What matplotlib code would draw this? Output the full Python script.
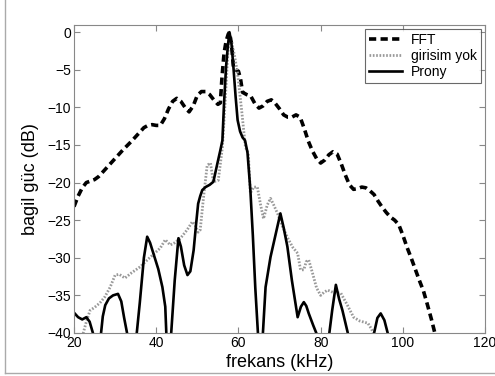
import numpy as np
import matplotlib.pyplot as plt
from matplotlib.lines import Line2D

plt.rcParams['font.family'] = ['Liberation Sans', 'DejaVu Sans']

# FFT spectrum (dashed)
fft_f = [20, 21, 22, 23, 24, 25, 26, 28, 30, 32, 34, 36, 37, 38, 39, 40, 41, 42, 43, 44,
         45, 46, 47, 48, 49, 50, 51, 52, 53, 54, 55, 55.6, 56, 56.5, 57, 57.5, 57.8, 58.3,
         58.8, 59.3, 60, 60.5, 61, 62, 63, 64, 65, 66, 67, 68, 69, 70, 71, 72, 73, 74, 75,
         76, 77, 78, 79, 80, 81, 82, 83, 84, 85, 86, 87, 88, 89, 90, 91, 92, 93, 94, 95, 96,
         97, 98, 99, 100, 101, 102, 103, 104, 105, 106, 107, 108]
fft_db = [-23.2, -21.8, -20.7, -20.0, -19.8, -19.6, -19.2, -18.0, -16.8, -15.6, -14.5, -13.3,
          -12.7, -12.4, -12.3, -12.4, -12.4, -11.5, -10.2, -9.2, -8.8, -9.2, -10.0, -10.6,
          -9.8, -8.4, -7.9, -7.9, -8.3, -9.0, -9.6, -9.4, -6.0, -2.8, -1.2, -0.3, 0.0, -1.5,
          -4.8, -5.0, -5.2, -6.2, -8.0, -8.3, -8.5, -9.5, -10.1, -9.8, -9.2, -9.0, -9.5,
          -10.2, -11.0, -11.3, -11.3, -11.0, -11.3, -12.8, -14.5, -15.8, -16.8, -17.4, -17.0,
          -16.3, -15.9, -16.2, -17.5, -19.0, -20.3, -20.9, -20.8, -20.6, -20.7, -21.1, -21.6,
          -22.5, -23.3, -24.0, -24.6, -25.0, -25.6, -27.0, -28.6, -30.0, -31.5, -33.0, -34.4,
          -36.3, -38.3, -40.5]

# no interference (dotted)
yok_f = [22, 23, 23.9, 25, 26.3, 27.5, 28.8, 30, 31, 32.4, 34, 36.1, 38, 40, 41, 42.2, 43.4,
         44.5, 45.9, 47.5, 48.8, 49.5, 50.2, 50.7, 51.5, 52.4, 53.2, 53.9, 55.1, 56.1, 56.8,
         57.4, 57.9, 58.4, 59.0, 59.8, 60.8, 61.7, 62.4, 62.9, 63.7, 64.6, 65.4, 66.1, 67.0,
         67.8, 68.6, 69.5, 70.7, 72, 73.2, 74.4, 75.1, 75.9, 76.5, 77.1, 78, 79, 80, 80.8,
         81.7, 83, 84.9, 86.5, 88, 89.5, 91.5, 92.4, 93.2]
yok_db = [-40.5, -38.5, -37.0, -36.6, -36.0, -35.2, -33.9, -32.3, -32.2, -32.7, -32.0, -31.2,
          -30.2, -29.2, -28.7, -27.6, -28.3, -28.0, -27.4, -26.3, -25.2, -25.7, -26.6, -26.3,
          -22.0, -17.7, -17.4, -19.9, -19.7, -15.3, -9.0, -3.0, -0.2, -1.5, -3.0, -5.5, -10.5,
          -15.3, -16.1, -21.4, -20.6, -20.6, -23.0, -24.8, -23.0, -22.1, -23.0, -24.1, -25.8,
          -27.4, -28.6, -29.4, -31.6, -31.6, -30.5, -30.3, -32.0, -34.0, -35.0, -34.6, -34.3,
          -34.6, -34.7, -36.3, -37.9, -38.4, -38.7, -39.5, -40.5]

# Prony (solid)
prony_f = [20, 21, 22, 23, 23.8, 24.6, 25.0, 26.3, 27.0, 27.6, 28.5, 29.5, 30.7, 31.5, 32.2,
           32.9, 33.3, 34.9, 36.0, 37.0, 37.8, 38.5, 39.3, 40.5, 41.5, 42.2, 42.6, 43.4, 44.5,
           45.4, 46.0, 46.8, 47.6, 48.3, 49.1, 49.7, 50.2, 50.7, 51.2, 52.0, 53.0, 53.9, 54.9,
           55.6, 56.1, 56.5, 57.0, 57.4, 57.8, 58.3, 58.8, 59.3, 59.8, 60.4, 61.0, 61.6, 62.2,
           62.9, 63.5, 64.1, 64.9, 65.3, 65.9, 66.6, 67.8, 69.0, 70.2, 71.0, 71.9, 73.0, 74.4,
           75.2, 75.9, 76.5, 77.1, 78.2, 79.3, 79.8, 81.5, 82.0, 82.8, 83.7, 84.5, 85.3, 86.6,
           87.1, 92.5, 93.0, 93.8, 94.6, 95.5, 96.3, 96.8]
prony_db = [-37.3, -37.9, -38.2, -37.9, -38.5, -40.0, -41.5, -41.5, -37.8, -36.3, -35.4,
            -35.0, -34.8, -35.8, -38.0, -40.0, -42.0, -42.0, -36.0, -30.0, -27.2, -28.0, -29.4,
            -31.5, -33.9, -36.5, -42.0, -42.0, -33.0, -27.4, -28.5, -31.0, -32.3, -31.8, -29.0,
            -25.5, -22.8, -21.8, -21.0, -20.6, -20.3, -19.9, -17.4, -15.7, -14.4, -9.4, -4.5,
            -2.0, 0.0, -1.5, -4.8, -8.5, -11.7, -13.2, -14.0, -14.4, -16.0, -21.0, -27.0,
            -34.0, -41.5, -42.0, -40.5, -33.9, -29.9, -27.0, -24.1, -26.0, -28.5, -33.0, -37.9,
            -36.5, -35.9, -36.4, -37.4, -39.0, -40.5, -42.0, -42.0, -40.5, -37.0, -33.6, -35.5,
            -37.0, -40.0, -42.0, -42.0, -40.0, -38.0, -37.4, -38.3, -40.0, -42.0]

fig = plt.figure(figsize=(4.95, 3.76), dpi=100)
ax = fig.add_axes([0.1495, 0.1144, 0.8305, 0.8191])

ax.plot(fft_f, fft_db, color='black', linestyle=(0, (2.0, 1.2)), linewidth=2.6, label='FFT')
ax.plot(yok_f, yok_db, color='#999999', linestyle=(0, (0.6, 0.6)), linewidth=2.0,
        label='girisim yok')
ax.plot(prony_f, prony_db, color='black', linestyle='-', linewidth=1.9, label='Prony')

ax.set_xlim(20, 120)
ax.set_ylim(-40, 0.95)
ax.set_xticks([20, 40, 60, 80, 100, 120])
ax.set_yticks([0, -5, -10, -15, -20, -25, -30, -35, -40])
ax.tick_params(direction='in', top=True, right=True, length=4, color='#888888',
               labelsize=10, pad=2)
for s in ax.spines.values():
    s.set_color('#888888')
    s.set_linewidth(0.8)

ax.set_xlabel('frekans (kHz)', fontsize=13, labelpad=3)
ax.set_ylabel('bagil güc (dB)', fontsize=13, labelpad=6)

leg = ax.legend(loc='upper right', fontsize=10, frameon=True, fancybox=False,
                borderpad=0.3, labelspacing=0.12, handlelength=2.4, handletextpad=0.6,
                borderaxespad=0.3)
leg.get_frame().set_edgecolor('#444444')
leg.get_frame().set_linewidth(0.8)

# light frame around the figure
fig.add_artist(Line2D([5 / 495, 5 / 495], [3 / 376, 1], transform=fig.transFigure,
                      color='#aaaaaa', linewidth=1))
fig.add_artist(Line2D([5 / 495, 1], [3 / 376, 3 / 376], transform=fig.transFigure,
                      color='#aaaaaa', linewidth=1))

fig.savefig('out.png', dpi=100)
